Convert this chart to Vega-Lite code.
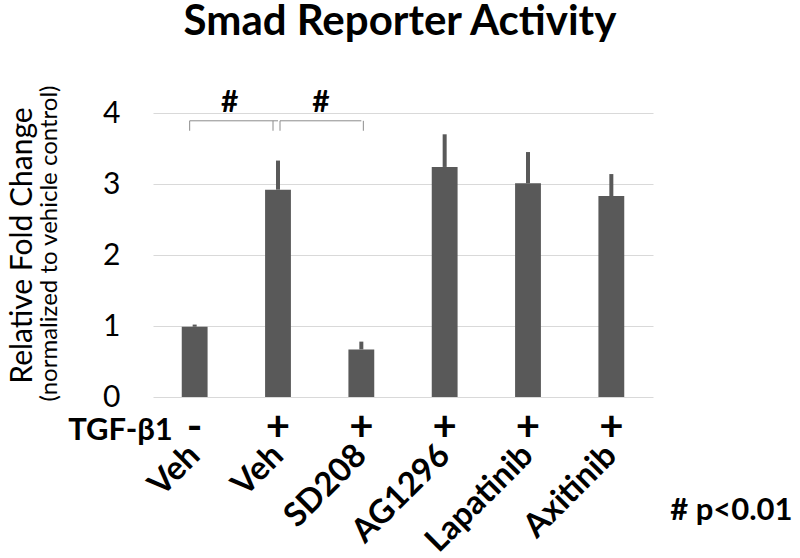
{
  "$schema": "https://vega.github.io/schema/vega-lite/v6.json",
  "autosize": {"type": "none"},
  "padding": {"left": 153, "top": 113, "right": 147, "bottom": 161},
  "width": 500,
  "height": 284,
  "background": "white",
  "config": {"font": "Lato", "view": {"stroke": null}},
  "datasets": {
    "bars": [
      {"id": "Veh|1", "tgf": "-", "value": 0.99, "upper": 1.02},
      {"id": "Veh|2", "tgf": "+", "value": 2.92, "upper": 3.33},
      {"id": "SD208|3", "tgf": "+", "value": 0.67, "upper": 0.78},
      {"id": "AG1296|4", "tgf": "+", "value": 3.24, "upper": 3.70},
      {"id": "Lapatinib|5", "tgf": "+", "value": 3.01, "upper": 3.45},
      {"id": "Axitinib|6", "tgf": "+", "value": 2.83, "upper": 3.14}
    ],
    "brackets": [
      {"b": 1, "from": "Veh|1", "to": "Veh|2", "sig": "#"},
      {"b": 2, "from": "Veh|2", "to": "SD208|3", "sig": "#"}
    ],
    "note": [{"text": "# p<0.01"}],
    "heading": [{"text": "Smad Reporter Activity"}]
  },
  "resolve": {"axis": {"x": "independent", "y": "independent"}},
  "layer": [
    {
      "data": {"name": "bars"},
      "mark": {"type": "bar", "color": "#595959"},
      "encoding": {
        "x": {"field": "id", "type": "nominal", "sort": null,
          "scale": {"domain": ["Veh|1", "Veh|2", "SD208|3", "AG1296|4", "Lapatinib|5", "Axitinib|6"], "paddingInner": 0.69, "paddingOuter": 0.345},
          "axis": {"title": "TGF-β1", "titleX": -33, "titleY": 33, "titleAlign": "center", "titleBaseline": "middle", "titleAngle": 0, "titleFontSize": 31, "titleFontWeight": "bold", "titleColor": "black",
            "labelExpr": "split(datum.value, '|')[0]", "labelAngle": -45, "labelAlign": "right", "labelBaseline": "middle", "labelPadding": 53, "labelFontSize": 33, "labelFontWeight": "bold", "labelColor": "black", "labelBound": false, "labelOverlap": false, "labelLimit": 300,
            "ticks": false, "domain": false, "grid": false}},
        "y": {"field": "value", "type": "quantitative",
          "scale": {"domain": [0, 4], "nice": false, "zero": true},
          "axis": {"values": [0, 1, 2, 3, 4], "grid": true, "gridColor": "#d9d9d9", "gridWidth": 1, "ticks": false, "domain": false,
            "labelFontSize": 30, "labelColor": "black", "labelPadding": 33,
            "title": "Relative Fold Change", "titleFontSize": 30, "titleFontWeight": "normal", "titleColor": "black", "titleX": -131, "titleY": 132, "titleAngle": -90, "titleAlign": "center", "titleBaseline": "middle"}}
      }
    },
    {
      "data": {"name": "bars"},
      "mark": {"type": "rule", "color": "#595959", "strokeWidth": 4},
      "encoding": {
        "x": {"field": "id", "type": "nominal", "sort": null, "axis": null},
        "y": {"field": "value", "type": "quantitative",
          "axis": {"orient": "left", "labels": false, "ticks": false, "domain": false, "grid": false,
            "title": "(normalized to vehicle control)", "titleFontSize": 24, "titleFontWeight": "normal", "titleColor": "black", "titleX": -104, "titleY": 130, "titleAngle": -90, "titleAlign": "center", "titleBaseline": "middle"}},
        "y2": {"field": "upper"}
      }
    },
    {
      "data": {"name": "bars"},
      "mark": {"type": "text", "fontSize": 42, "fontWeight": "bold", "color": "black", "baseline": "middle", "align": "center"},
      "encoding": {
        "x": {"field": "id", "type": "nominal", "sort": null, "axis": null},
        "y": {"datum": -0.44, "type": "quantitative", "axis": null},
        "text": {"field": "tgf"}
      }
    },
    {
      "data": {"name": "brackets"},
      "transform": [{"filter": "datum.b == 1"}],
      "layer": [
        {"mark": {"type": "rule", "color": "#8c8c8c", "strokeWidth": 1, "xOffset": -5},
         "encoding": {"x": {"field": "from", "type": "nominal", "axis": null}, "x2": {"field": "to"}, "y": {"datum": 3.89, "type": "quantitative", "axis": null}}},
        {"mark": {"type": "rule", "color": "#8c8c8c", "strokeWidth": 1, "xOffset": -5},
         "encoding": {"x": {"field": "from", "type": "nominal", "axis": null}, "y": {"datum": 3.75, "type": "quantitative", "axis": null}, "y2": {"datum": 3.89}}},
        {"mark": {"type": "rule", "color": "#8c8c8c", "strokeWidth": 1, "xOffset": -5},
         "encoding": {"x": {"field": "to", "type": "nominal", "axis": null}, "y": {"datum": 3.75, "type": "quantitative", "axis": null}, "y2": {"datum": 3.89}}},
        {"mark": {"type": "text", "fontSize": 30, "fontWeight": "bold", "color": "black", "align": "center", "baseline": "middle", "dx": 35},
         "encoding": {"x": {"field": "from", "type": "nominal", "axis": null}, "y": {"datum": 4.14, "type": "quantitative", "axis": null}, "text": {"field": "sig"}}}
      ]
    },
    {
      "data": {"name": "brackets"},
      "transform": [{"filter": "datum.b == 2"}],
      "layer": [
        {"mark": {"type": "rule", "color": "#8c8c8c", "strokeWidth": 1, "xOffset": 2},
         "encoding": {"x": {"field": "from", "type": "nominal", "axis": null}, "x2": {"field": "to"}, "y": {"datum": 3.89, "type": "quantitative", "axis": null}}},
        {"mark": {"type": "rule", "color": "#8c8c8c", "strokeWidth": 1, "xOffset": 2},
         "encoding": {"x": {"field": "from", "type": "nominal", "axis": null}, "y": {"datum": 3.75, "type": "quantitative", "axis": null}, "y2": {"datum": 3.89}}},
        {"mark": {"type": "rule", "color": "#8c8c8c", "strokeWidth": 1, "xOffset": 2},
         "encoding": {"x": {"field": "to", "type": "nominal", "axis": null}, "y": {"datum": 3.75, "type": "quantitative", "axis": null}, "y2": {"datum": 3.89}}},
        {"mark": {"type": "text", "fontSize": 30, "fontWeight": "bold", "color": "black", "align": "center", "baseline": "middle", "dx": 43},
         "encoding": {"x": {"field": "from", "type": "nominal", "axis": null}, "y": {"datum": 4.14, "type": "quantitative", "axis": null}, "text": {"field": "sig"}}}
      ]
    },
    {
      "data": {"name": "note"},
      "mark": {"type": "text", "fontSize": 31, "fontWeight": "bold", "color": "black", "align": "center", "baseline": "middle", "dx": 120},
      "encoding": {
        "x": {"datum": "Axitinib|6", "type": "nominal", "axis": null},
        "y": {"datum": -1.6, "type": "quantitative", "axis": null},
        "text": {"field": "text"}
      }
    },
    {
      "data": {"name": "heading"},
      "mark": {"type": "text", "fontSize": 42, "fontWeight": "bold", "color": "black", "align": "center", "baseline": "alphabetic", "dx": -3},
      "encoding": {
        "y": {"datum": 5.1, "type": "quantitative", "axis": null},
        "text": {"field": "text"}
      }
    }
  ]
}
